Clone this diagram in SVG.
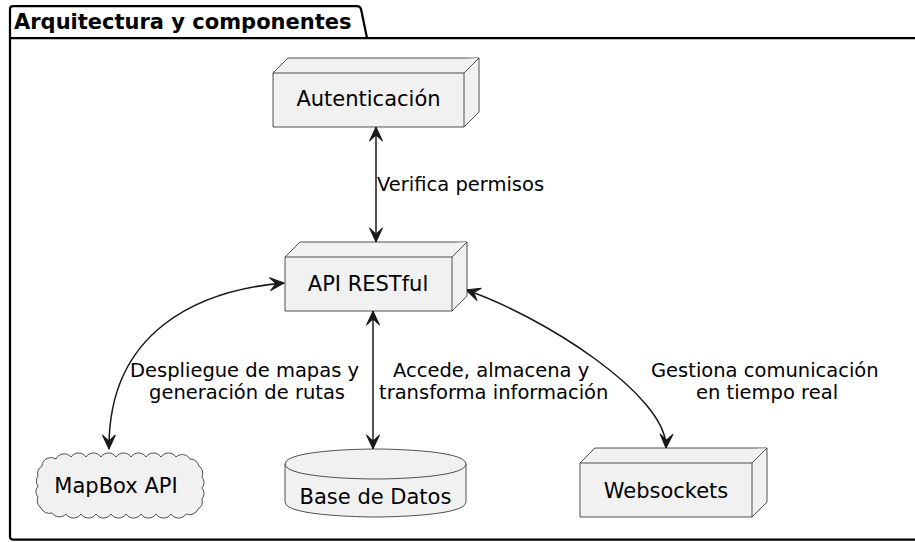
<svg xmlns="http://www.w3.org/2000/svg" width="915" height="542" viewBox="0 0 915 542">
  <style>
    .frame { fill: none; stroke: #000000; stroke-width: 2.25; stroke-linejoin: round; }
    .title { font-family: "DejaVu Sans", sans-serif; font-weight: bold; font-size: 21px; fill: #000000; }
    .shape { fill: #F1F1F1; stroke: #181818; stroke-width: 0.75; stroke-linejoin: round; }
    .edge { fill: none; stroke: #181818; stroke-width: 1.5; }
    .name { font-family: "DejaVu Sans", sans-serif; font-size: 21px; fill: #000000; text-anchor: middle; }
    .lbl { font-family: "DejaVu Sans", sans-serif; font-size: 19.5px; fill: #000000; }
  </style>
  <defs>
    <marker id="head" markerUnits="userSpaceOnUse" viewBox="-16 -8 17 16" refX="0" refY="0" markerWidth="17" markerHeight="16" orient="auto-start-reverse">
      <path d="M0,0 L-14,-6.5 L-8,0 L-14,6.5 Z" fill="#181818" stroke="#181818" stroke-width="1" stroke-linejoin="miter"/>
    </marker>
  </defs>

  <rect x="0" y="0" width="915" height="542" fill="#FFFFFF"/>

  <!-- package frame with its tab -->
  <g id="package">
    <path class="frame" d="M13,6 L357,6 Q360,6 361,9 L367,38 L930,38 L930,539.5 L13,539.5 Q10,539.5 10,536.5 L10,9 Q10,6 13,6 Z"/>
    <path class="frame" d="M10,38 L367,38"/>
    <text class="title" x="14" y="28.5">Arquitectura y componentes</text>
  </g>

  <!-- connectors -->
  <g id="connectors">
    <path class="edge" d="M376,127 L376,242" marker-start="url(#head)" marker-end="url(#head)"/>
    <path class="edge" d="M284,283 C200,290 108,330 109,449" marker-start="url(#head)" marker-end="url(#head)"/>
    <path class="edge" d="M373,311 L373,449" marker-start="url(#head)" marker-end="url(#head)"/>
    <path class="edge" d="M466,290 C540,315 668,395 666,448" marker-start="url(#head)" marker-end="url(#head)"/>
    <text class="lbl" x="377" y="191">Verifica permisos</text>
    <text class="lbl" x="130" y="377">Despliegue de mapas y</text>
    <text class="lbl" x="149" y="399">generación de rutas</text>
    <text class="lbl" x="393" y="377">Accede, almacena y</text>
    <text class="lbl" x="379" y="399">transforma información</text>
    <text class="lbl" x="651" y="377">Gestiona comunicación</text>
    <text class="lbl" x="696" y="399">en tiempo real</text>
  </g>

  <!-- node: Autenticación -->
  <g id="autenticacion">
    <path class="shape" d="M273,73 L288,58 L479,58 L479,112 L464,127 L273,127 Z"/>
    <path class="shape" fill="none" d="M273,73 L464,73 L479,58 M464,73 L464,127"/>
    <text class="name" x="368.5" y="106">Autenticación</text>
  </g>

  <!-- node: API RESTful -->
  <g id="api-restful">
    <path class="shape" d="M285,257 L300,242 L467,242 L467,296 L452,311 L285,311 Z"/>
    <path class="shape" fill="none" d="M285,257 L452,257 L467,242 M452,257 L452,311"/>
    <text class="name" x="368" y="291">API RESTful</text>
  </g>

  <!-- cloud: MapBox API -->
  <g id="mapbox-api">
    <path class="shape" d="M42,466 A9,9 0 0 1 56,459 A9,9 0 0 1 71,457 A9,9 0 0 1 86,457 A9,9 0 0 1 101,457 A9,9 0 0 1 116,457 A9,9 0 0 1 131,457 A9,9 0 0 1 146,457 A9,9 0 0 1 161,457 A9,9 0 0 1 176,457 A9,9 0 0 1 190,459 A9,9 0 0 1 199,466 A9,9 0 0 1 202,477 A9,9 0 0 1 202,488 A9,9 0 0 1 202,499 A9,9 0 0 1 198,509 A9,9 0 0 1 186,514 A9,9 0 0 1 171,514 A9,9 0 0 1 156,514 A9,9 0 0 1 141,514 A9,9 0 0 1 126,514 A9,9 0 0 1 111,514 A9,9 0 0 1 96,514 A9,9 0 0 1 81,514 A9,9 0 0 1 66,514 A9,9 0 0 1 52,513 A9,9 0 0 1 41,508 A9,9 0 0 1 38,497 A9,9 0 0 1 38,486 A9,9 0 0 1 38,476 A9,9 0 0 1 42,466 Z"/>
    <text class="name" x="116" y="493">MapBox API</text>
  </g>

  <!-- database: Base de Datos -->
  <g id="base-de-datos">
    <path class="shape" d="M285,464 C285,449 375.5,449 375.5,449 C375.5,449 466,449 466,464 L466,502 C466,517 375.5,517 375.5,517 C375.5,517 285,517 285,502 Z"/>
    <path class="shape" fill="none" d="M285,464 C285,479 375.5,479 375.5,479 C375.5,479 466,479 466,464"/>
    <text class="name" x="375.5" y="504">Base de Datos</text>
  </g>

  <!-- node: Websockets -->
  <g id="websockets">
    <path class="shape" d="M580,463 L595,448 L767,448 L767,502 L752,517 L580,517 Z"/>
    <path class="shape" fill="none" d="M580,463 L752,463 L767,448 M752,463 L752,517"/>
    <text class="name" x="666" y="498">Websockets</text>
  </g>
</svg>
